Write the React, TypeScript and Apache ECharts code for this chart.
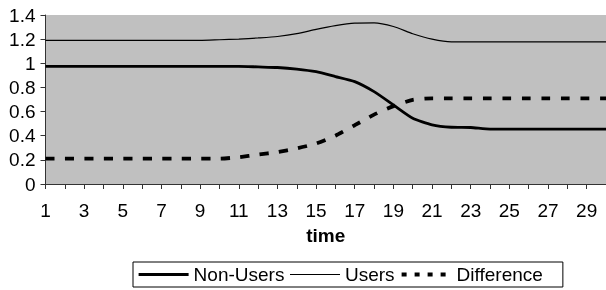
import React, { useEffect, useRef } from "react";
import * as echarts from "echarts";

const categories: string[] = [
  "1","2","3","4","5","6","7","8","9","10",
  "11","12","13","14","15","16","17","18","19","20",
  "21","22","23","24","25","26","27","28","29","30",
];

const nonUsers: number[] = [
  0.975, 0.975, 0.975, 0.975, 0.975, 0.975, 0.975, 0.975, 0.975, 0.975,
  0.975, 0.97, 0.965, 0.952, 0.93, 0.89, 0.848, 0.765, 0.655, 0.545,
  0.49, 0.47, 0.468, 0.455, 0.455, 0.455, 0.455, 0.455, 0.455, 0.455,
];

const users: number[] = [
  1.19, 1.19, 1.19, 1.19, 1.19, 1.19, 1.19, 1.19, 1.19, 1.195,
  1.2, 1.21, 1.222, 1.245, 1.281, 1.312, 1.333, 1.335, 1.305, 1.245,
  1.2, 1.178, 1.178, 1.178, 1.178, 1.178, 1.178, 1.178, 1.178, 1.178,
];

const difference: number[] = [
  0.21, 0.21, 0.21, 0.21, 0.21, 0.21, 0.21, 0.21, 0.21, 0.21,
  0.222, 0.243, 0.265, 0.295, 0.335, 0.4, 0.487, 0.575, 0.645, 0.697,
  0.71, 0.71, 0.71, 0.71, 0.71, 0.71, 0.71, 0.71, 0.71, 0.71,
];

const seriesNames: string[] = ["Non-Users", "Users", "Difference"];
const xAxisName = "time";

const FONT = "'Liberation Sans', Arial, Helvetica, sans-serif";

export default function App() {
  const ref = useRef<HTMLDivElement>(null);

  useEffect(() => {
    if (!ref.current) return;
    const chart = echarts.init(ref.current, undefined, { renderer: "svg" });
    chart.setOption({
      animation: false,
      textStyle: { fontFamily: FONT },
      grid: {
        left: 45.5,
        right: -6.2,
        top: 15,
        bottom: 106,
        show: true,
        backgroundColor: "#c0c0c0",
        borderWidth: 0,
      },
      xAxis: {
        type: "category",
        data: categories,
        boundaryGap: false,
        name: xAxisName,
        nameLocation: "middle",
        nameGap: 42,
        nameTextStyle: { fontSize: 19, fontWeight: "bold", color: "#000", fontFamily: FONT },
        axisLine: { show: true, lineStyle: { color: "#333", width: 1 } },
        axisTick: { show: true, interval: 0, length: 5, lineStyle: { color: "#333" } },
        axisLabel: { interval: 1, margin: 17, fontSize: 19, color: "#000", fontFamily: FONT },
        splitLine: { show: false },
      },
      yAxis: {
        type: "value",
        min: 0,
        max: 1.4,
        interval: 0.2,
        axisLine: { show: true, lineStyle: { color: "#333", width: 1 } },
        axisTick: { show: true, length: 5, lineStyle: { color: "#333" } },
        axisLabel: {
          margin: 10,
          fontSize: 19,
          color: "#000",
          fontFamily: FONT,
          formatter: (v: number) => String(Math.round(v * 10) / 10),
        },
        splitLine: { show: false },
      },
      legend: {
        left: 133,
        top: 262,
        orient: "horizontal",
        borderColor: "#000",
        borderWidth: 1,
        padding: [3, 20, 3, 4],
        itemWidth: 50,
        itemHeight: 14,
        itemGap: 5,
        itemStyle: { opacity: 0, borderWidth: 0 },
        textStyle: { fontSize: 19, color: "#000", fontFamily: FONT },
        data: [
          { name: seriesNames[0], lineStyle: { width: 3.2, type: "solid" } },
          { name: seriesNames[1], lineStyle: { width: 1.2, type: "solid" } },
          { name: seriesNames[2], lineStyle: { type: [5, 8], width: 4 } },
        ],
      },
      series: [
        {
          name: seriesNames[0],
          type: "line",
          data: nonUsers,
          symbol: "none",
          smooth: 0.2,
          lineStyle: { color: "#000", width: 2.8 },
          itemStyle: { color: "#000" },
        },
        {
          name: seriesNames[1],
          type: "line",
          data: users,
          symbol: "none",
          smooth: 0.2,
          lineStyle: { color: "#000", width: 1.2 },
          itemStyle: { color: "#000" },
        },
        {
          name: seriesNames[2],
          type: "line",
          data: difference,
          symbol: "none",
          smooth: 0.2,
          lineStyle: { color: "#000", width: 3.8, type: [9, 10.5] },
          itemStyle: { color: "#000" },
        },
      ],
    });
    return () => chart.dispose();
  }, []);

  return (
    <div
      ref={ref}
      style={{ position: "fixed", left: 0, top: 0, width: 606, height: 290 }}
    />
  );
}
